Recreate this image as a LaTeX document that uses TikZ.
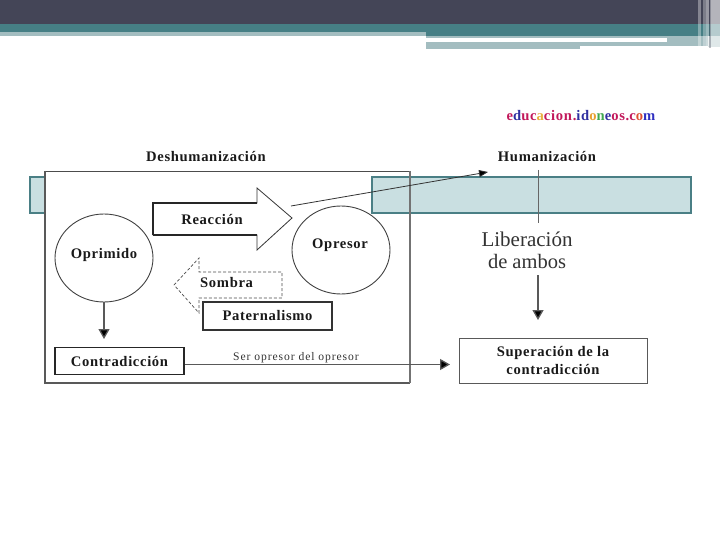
\documentclass[tikz,border=0pt]{standalone}
\usepackage{fontspec}
\setmainfont{Liberation Serif}
\usetikzlibrary{arrows.meta,shapes.geometric}
\definecolor{hdark}{HTML}{444557}
\definecolor{hteal}{HTML}{467F85}
\definecolor{hlight}{HTML}{A3BDC0}
\definecolor{bandfill}{HTML}{C9DFE1}
\definecolor{bandline}{HTML}{4A7F85}
\tikzset{
  lbl/.style={font=\bfseries\addfontfeature{LetterSpace=4.5}\fontsize{14.6}{18}\selectfont,inner sep=0pt,text=black!90},
  conn/.style={draw=black!65,line width=1.3pt,-{Triangle[length=10pt,width=11pt,fill=black]}},
  circ/.style={draw=black!75,line width=0.9pt,ellipse,minimum width=98pt,minimum height=88pt,inner sep=0pt},
}
\begin{document}
\begin{tikzpicture}[x=1pt,y=-1pt]
\useasboundingbox (0,0) rectangle (720,540);
% header
\fill[hdark] (0,0) rectangle (720,24);
\fill[hteal] (0,24) rectangle (720,32);
\fill[hlight] (0,32) rectangle (426,36);
\fill[hteal] (426,32) rectangle (720,36);
\fill[hlight] (426,36) rectangle (667,38.5);
\fill[hlight] (667,36) rectangle (708,46);
\fill[hlight] (426,42) rectangle (667,46);
\fill[hlight] (426,46) rectangle (580,49);
\fill[hlight!35] (708,36) rectangle (720,47);
\fill[white,opacity=.6] (710,0) rectangle (720,36);
\fill[white,opacity=.35] (698,0) rectangle (701,46);
\fill[white,opacity=.3] (703,0) rectangle (706,46);
\fill[white,opacity=.45] (706,0) rectangle (709,46);
\fill[hdark,opacity=.35] (709,0) rectangle (710.5,48);
% band
\fill[bandfill] (372,177) rectangle (691,213);
\draw[bandline,line width=1.1pt] (372,177) rectangle (691,213);
\fill[bandfill] (30,177) rectangle (45,213);
\draw[bandline,line width=1.1pt] (45,177) -- (30,177) -- (30,213) -- (45,213);
% frame
\draw[black!70,line width=.9pt] (45,171) -- (410,171);
\draw[black!65,line width=1.2pt] (45,171) -- (45,383) -- (410,383);
\draw[black!55,line width=1.5pt] (410,171) -- (410,383);
% header texts
\node[lbl] (t1) at (206,157) {Deshumanización};
\node[lbl] (t2) at (547,157) {Humanización};
\node[font=\fontsize{21}{24}\selectfont,inner sep=0pt,text=black!80] (t3) at (527,239) {Liberación};
\node[font=\fontsize{20.5}{24}\selectfont,inner sep=0pt,text=black!80] (t4) at (527,261) {de ambos};
\node[font=\bfseries\addfontfeature{LetterSpace=5}\fontsize{14.6}{16}\selectfont,inner sep=0pt] (logo) at (581,116) {\textcolor[HTML]{C2185B}{e}\textcolor[HTML]{3030A0}{d}\textcolor[HTML]{C2185B}{uc}\textcolor[HTML]{E8B040}{a}\textcolor[HTML]{C2185B}{cion.}\textcolor[HTML]{3030A0}{id}\textcolor[HTML]{E8A030}{o}\textcolor[HTML]{40A850}{n}\textcolor[HTML]{3030A0}{e}\textcolor[HTML]{C2185B}{os.}\textcolor[HTML]{C2185B}{c}\textcolor[HTML]{E05030}{o}\textcolor[HTML]{3030C0}{m}};
% big arrows
\draw[black!80,line width=.8pt,fill=white] (153,203) -- (257,203) -- (257,188) -- (292,218) -- (257,250) -- (257,235) -- (153,235) -- cycle;
\draw[black!85,line width=1.3pt] (153,235) -- (153,203) -- (257,203);
\draw[black!85,line width=1.3pt] (153,235) -- (257,235);
\node[lbl] (rea) at (212,219) {Reacción};
\draw[black!70,line width=.7pt,dash pattern=on 3pt off 2pt,fill=white] (174,285) -- (199,258) -- (199,272) -- (282,272) -- (282,298) -- (199,298) -- (199,313) -- cycle;
\node[lbl,anchor=west] (som) at (200,283) {Sombra};
% circles
\node[circ] (opr) at (104,258) {};
\node[lbl] at (104,255) {Oprimido};
\node[circ] (ops) at (341,250) {};
\node[lbl] at (340,245) {Opresor};
% boxes
\node[lbl,draw=black!80,line width=1.3pt,fill=white,minimum width=129pt,minimum height=28pt] (pat) at (267.5,316) {Paternalismo};
\node[lbl,draw=black!85,line width=1.3pt,fill=white,minimum width=129pt,minimum height=27pt] (con) at (119.5,361) {Contradicción};
\node[lbl,draw=black!65,line width=.9pt,fill=white,minimum width=188pt,minimum height=45pt,align=center] (sup) at (553,360.5) {Superación de la\\contradicción};
% small label
\node[font=\addfontfeature{LetterSpace=8}\fontsize{11.6}{13}\selectfont,inner sep=0pt,text=black!80] (ser) at (296,358) {Ser opresor del opresor};
% connectors
\coordinate (oa) at (104,339);
\draw[conn] (opr.south) -- (oa);
\coordinate (sa) at (450,364.5);
\draw[conn] (con.east |- 0,364.5) -- (sa);
\coordinate (ra) at (291,206);
\coordinate (rb) at (488,172);
\draw[draw=black!80,line width=.8pt,-{Triangle[length=9pt,width=7pt,fill=black]}] (ra) -- (rb);
\coordinate (hb) at (538,223);
\coordinate (ht) at (538,170);
\draw[draw=black!60,line width=.9pt] (ht) -- (hb);
\coordinate (la) at (538,275);
\coordinate (lb) at (538,320);
\draw[conn] (la) -- (lb);
\end{tikzpicture}
\end{document}
